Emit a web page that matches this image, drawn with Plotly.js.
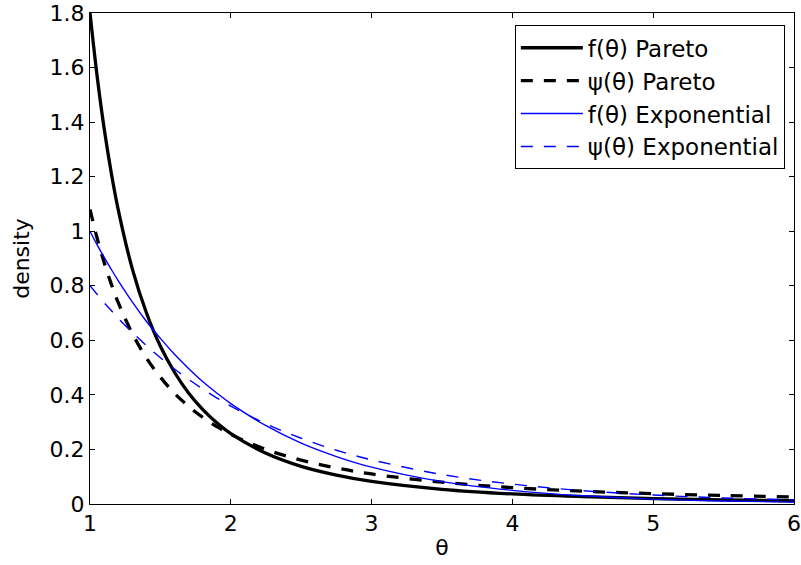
<!DOCTYPE html>
<html><head><meta charset="utf-8">
<script src="https://cdn.plot.ly/plotly-3.0.1.min.js"></script>
<style>body{margin:0;background:#fff}#c{width:801px;height:565px}</style>
</head><body><div id="c"></div>
<script>
const theta = [1,1.05,1.1,1.15,1.2,1.3,1.4,1.5,1.6,1.7,1.8,1.9,2,2.25,2.5,2.75,3,3.5,4,4.5,5,5.5,6];
const fPareto = [1.8,1.571,1.378,1.217,1.080,0.863,0.702,0.578,0.483,0.407,0.347,0.298,0.258,0.186,0.138,0.106,0.083,0.054,0.037,0.027,0.020,0.015,0.012];
const psiPareto = [1.08,0.976,0.886,0.808,0.739,0.626,0.536,0.465,0.406,0.358,0.318,0.284,0.255,0.200,0.161,0.132,0.110,0.080,0.060,0.047,0.038,0.031,0.026];
const fExp = [1,0.951,0.905,0.861,0.819,0.741,0.670,0.607,0.549,0.497,0.449,0.407,0.368,0.287,0.223,0.174,0.135,0.082,0.050,0.030,0.018,0.011,0.007];
const psiExp = [0.8,0.769,0.738,0.710,0.681,0.629,0.581,0.536,0.495,0.457,0.422,0.389,0.359,0.294,0.241,0.197,0.162,0.108,0.073,0.049,0.033,0.022,0.015];
const names = ['f(θ) Pareto','ψ(θ) Pareto','f(θ) Exponential','ψ(θ) Exponential'];
const xTicks = [1,2,3,4,5,6];
const xTickText = ['1','2','3','4','5','6'];
const yTicks = [0,0.2,0.4,0.6,0.8,1,1.2,1.4,1.6,1.8];
const yTickText = ['0','0.2','0.4','0.6','0.8','1','1.2','1.4','1.6','1.8'];

const traces = [
  {x:theta,y:fPareto,name:names[0],mode:'lines',line:{color:'#000',width:3.3,shape:'spline'}},
  {x:theta,y:psiPareto,name:names[1],mode:'lines',line:{color:'#000',width:3.3,dash:'12px,11px',shape:'spline'}},
  {x:theta,y:fExp,name:names[2],mode:'lines',line:{color:'#0000ff',width:1.4,shape:'spline'}},
  {x:theta,y:psiExp,name:names[3],mode:'lines',line:{color:'#0000ff',width:1.4,dash:'12px,11px',shape:'spline'}}
];
const fam = '"DejaVu Sans", "Liberation Sans", Arial, sans-serif';
const font = {family:fam, size:22, color:'#000'};
const layout = {
  width:801,height:565,
  margin:{l:90,r:7,t:13,b:61},
  paper_bgcolor:'#fff',plot_bgcolor:'#fff',
  font:font,
  showlegend:true,
  legend:{x:0.987,y:0.975,xanchor:'right',yanchor:'top',bordercolor:'#000',borderwidth:1,bgcolor:'#fff',
    font:{family:fam,size:23,color:'#000'},itemwidth:62,tracegroupgap:0},
  xaxis:{range:[1,6],tickvals:xTicks,ticktext:xTickText,ticks:'inside',ticklen:5,tickcolor:'#000',
    showline:true,linecolor:'#000',linewidth:1,mirror:'ticks',showgrid:false,zeroline:false,
    title:{text:'θ',font:{family:fam,size:22,color:'#000'},standoff:4},tickfont:{size:22}},
  yaxis:{range:[0,1.8],tickvals:yTicks,ticktext:yTickText,
    ticks:'inside',ticklen:5,tickcolor:'#000',showline:true,linecolor:'#000',linewidth:1,mirror:'ticks',showgrid:false,zeroline:false,
    title:{text:'density',font:{family:fam,size:22,color:'#000'},standoff:13},tickfont:{size:22}}
};
Plotly.newPlot('c',traces,layout,{staticPlot:true});
</script></body></html>
